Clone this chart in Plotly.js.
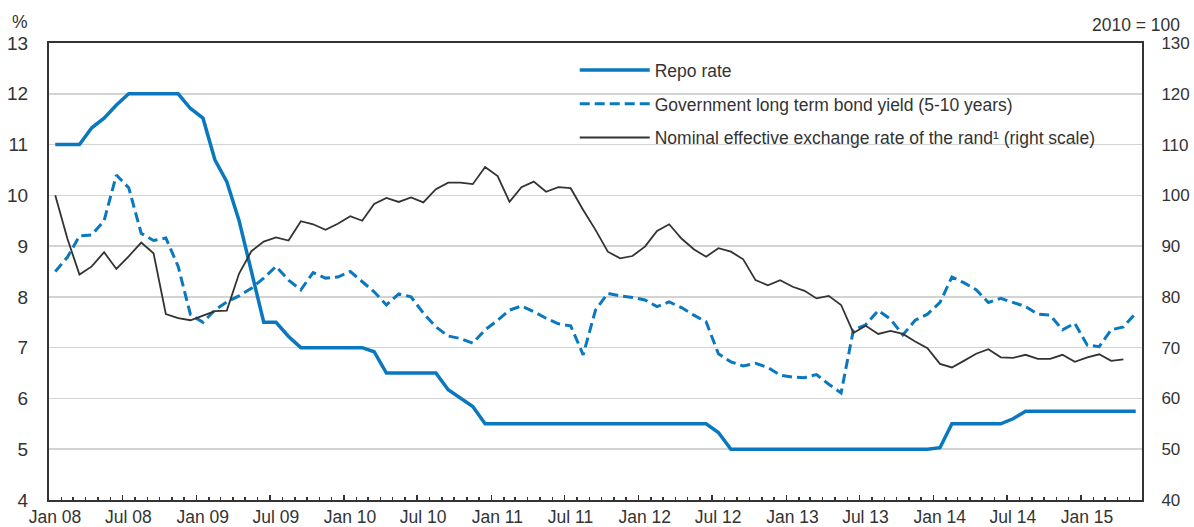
<!DOCTYPE html>
<html>
<head>
<meta charset="utf-8">
<script src="https://cdn.plot.ly/plotly-3.0.1.min.js"></script>
<style>html,body{margin:0;padding:0;background:#fff;}#chart{width:1194px;height:527px;}</style>
</head>
<body>
<div id="chart"></div>
<script>
// Months (monthly observations, Jan 2008 - May 2015)
const months = [
  "2008-01","2008-02","2008-03","2008-04","2008-05","2008-06","2008-07","2008-08","2008-09","2008-10","2008-11","2008-12",
  "2009-01","2009-02","2009-03","2009-04","2009-05","2009-06","2009-07","2009-08","2009-09","2009-10","2009-11","2009-12",
  "2010-01","2010-02","2010-03","2010-04","2010-05","2010-06","2010-07","2010-08","2010-09","2010-10","2010-11","2010-12",
  "2011-01","2011-02","2011-03","2011-04","2011-05","2011-06","2011-07","2011-08","2011-09","2011-10","2011-11","2011-12",
  "2012-01","2012-02","2012-03","2012-04","2012-05","2012-06","2012-07","2012-08","2012-09","2012-10","2012-11","2012-12",
  "2013-01","2013-02","2013-03","2013-04","2013-05","2013-06","2013-07","2013-08","2013-09","2013-10","2013-11","2013-12",
  "2014-01","2014-02","2014-03","2014-04","2014-05","2014-06","2014-07","2014-08","2014-09","2014-10","2014-11","2014-12",
  "2015-01","2015-02","2015-03","2015-04","2015-05"
];

// Repo rate (%), left scale
const repoRate = [
  11.0,11.0,11.0,11.33,11.52,11.78,12.0,12.0,12.0,12.0,12.0,11.71,
  11.52,10.7,10.27,9.5,8.5,7.5,7.5,7.22,7.0,7.0,7.0,7.0,
  7.0,7.0,6.92,6.5,6.5,6.5,6.5,6.5,6.17,6.0,5.84,5.5,
  5.5,5.5,5.5,5.5,5.5,5.5,5.5,5.5,5.5,5.5,5.5,5.5,
  5.5,5.5,5.5,5.5,5.5,5.5,5.33,5.0,5.0,5.0,5.0,5.0,
  5.0,5.0,5.0,5.0,5.0,5.0,5.0,5.0,5.0,5.0,5.0,5.0,
  5.03,5.5,5.5,5.5,5.5,5.5,5.6,5.75,5.75,5.75,5.75,5.75,
  5.75,5.75,5.75,5.75,5.75
];

// Government long term bond yield, 5-10 years (%), left scale
const bondYield = [
  8.5,8.78,9.2,9.22,9.5,10.4,10.15,9.25,9.11,9.16,8.6,7.65,
  7.5,7.74,7.9,8.02,8.17,8.37,8.6,8.33,8.14,8.48,8.37,8.39,
  8.5,8.3,8.1,7.84,8.06,8.0,7.68,7.41,7.23,7.18,7.09,7.35,
  7.54,7.74,7.82,7.71,7.58,7.47,7.43,6.86,7.74,8.07,8.02,7.99,
  7.94,7.81,7.9,7.79,7.64,7.51,6.88,6.72,6.64,6.69,6.61,6.46,
  6.42,6.41,6.47,6.28,6.11,7.35,7.45,7.73,7.56,7.25,7.54,7.66,
  7.89,8.39,8.28,8.14,7.89,7.97,7.89,7.81,7.66,7.64,7.35,7.48,
  7.05,7.02,7.35,7.41,7.68
];

// Nominal effective exchange rate of the rand (2010 = 100), right scale
const neer = [
  100.0,91.5,84.4,86.0,88.8,85.5,88.0,90.7,88.6,76.6,75.8,75.4,
  76.3,77.2,77.3,84.6,89.0,90.9,91.7,91.1,94.9,94.3,93.2,94.4,
  95.9,95.0,98.3,99.5,98.7,99.6,98.6,101.2,102.5,102.5,102.2,105.6,
  103.8,98.7,101.6,102.7,100.7,101.6,101.4,97.1,93.2,88.9,87.6,88.05,
  89.9,93.0,94.3,91.5,89.4,87.9,89.6,88.9,87.4,83.3,82.3,83.3,
  82.0,81.2,79.7,80.2,78.4,72.9,74.3,72.7,73.3,72.7,71.2,69.9,
  66.8,66.1,67.4,68.8,69.7,68.1,68.0,68.6,67.8,67.8,68.6,67.2,
  68.1,68.7,67.4,67.7,null
];

const seriesNames = [
  "Repo rate",
  "Government long term bond yield (5-10 years)",
  "Nominal effective exchange rate of the rand\u00b9 (right scale)"
];

const FONT = "'Liberation Sans', Arial, Helvetica, sans-serif";
const TXT = "#333333";
const BLUE = "#0a78be";

const common = {x: months, type: "scatter", mode: "lines",
  xperiod: "M1", xperiodalignment: "middle", hoverinfo: "skip"};

const traces = [
  Object.assign({}, common, {y: neer, name: seriesNames[2], yaxis: "y2",
    line: {color: "#333333", width: 1.8}, legendrank: 3, legendgroup: "c"}),
  Object.assign({}, common, {y: bondYield, name: seriesNames[1],
    line: {color: BLUE, width: 3, dash: "10px,5px"}, legendrank: 2, legendgroup: "b"}),
  Object.assign({}, common, {y: repoRate, name: seriesNames[0],
    line: {color: BLUE, width: 3.5}, legendrank: 1, legendgroup: "a"})
];

const layout = {
  width: 1194, height: 527,
  margin: {l: 49, r: 52, t: 43, b: 27, pad: 0},
  paper_bgcolor: "#ffffff", plot_bgcolor: "#ffffff",
  font: {family: FONT, size: 17, color: TXT},
  showlegend: true,
  legend: {x: 0.481, y: 0.98, xanchor: "left", yanchor: "top",
    bgcolor: "rgba(0,0,0,0)", borderwidth: 0, tracegroupgap: 8,
    itemwidth: 70, font: {family: FONT, size: 17.5, color: TXT}},
  xaxis: {
    type: "date", range: ["2008-01-01", "2015-06-01"],
    showline: true, linecolor: "#333333", linewidth: 2, mirror: true,
    showgrid: false, zeroline: false,
    ticks: "inside", ticklen: 5, tickwidth: 1.5, tickcolor: "#333333",
    dtick: "M6", tick0: "2008-01-01", tickformat: "%b %y",
    ticklabelshift: 6, ticklabelstandoff: 0,
    minor: {ticks: "inside", ticklen: 3, tickwidth: 1.5, tickcolor: "#333333",
      dtick: "M1", tick0: "2008-01-01", showgrid: false},
    tickfont: {family: FONT, size: 17.5, color: TXT}
  },
  yaxis: {
    range: [4, 13], dtick: 1, tick0: 4,
    showgrid: true, gridcolor: "#d3d3d3", gridwidth: 1.5,
    showline: true, linecolor: "#333333", linewidth: 2,
    ticks: "", zeroline: false, ticklabelstandoff: 15,
    tickfont: {family: FONT, size: 19, color: TXT}
  },
  yaxis2: {
    range: [40, 130], dtick: 10, tick0: 40,
    overlaying: "y", side: "right",
    showgrid: false, showline: true, linecolor: "#333333", linewidth: 2,
    ticks: "", zeroline: false, ticklabelstandoff: 14,
    tickfont: {family: FONT, size: 17, color: TXT}
  },
  annotations: [
    {text: "%", xref: "paper", yref: "paper", x: -0.0357, y: 1.046,
      xanchor: "left", yanchor: "middle", showarrow: false,
      font: {family: FONT, size: 17.5, color: TXT}},
    {text: "2010 = 100", xref: "paper", yref: "paper", x: 1.0366, y: 1.04,
      xanchor: "right", yanchor: "middle", showarrow: false,
      font: {family: FONT, size: 17.5, color: TXT}}
  ]
};

Plotly.newPlot("chart", traces, layout, {displayModeBar: false, staticPlot: true});
</script>
</body>
</html>
